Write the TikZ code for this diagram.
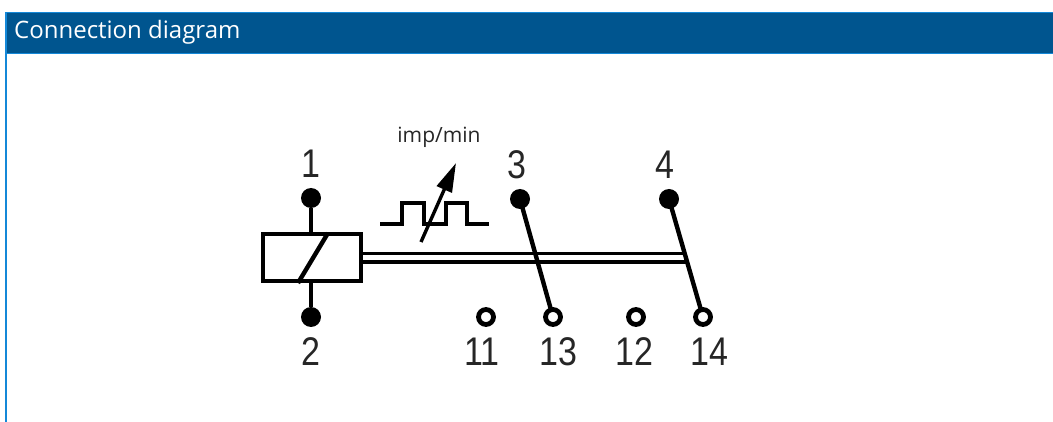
\documentclass[tikz,border=0pt]{standalone}
\usepackage{fontspec}
\setmainfont{Open Sans}
\newfontfamily\pinfont[FakeStretch=0.85]{Liberation Sans}
\usetikzlibrary{
	positioning
	, arrows.meta
	, calc
}
\definecolor{headblue}{HTML}{00558F}
\definecolor{edgeblue}{HTML}{1488D8}
\tikzset{
	heavy/.style={draw=black, line width=4.4pt},
	thinner/.style={draw=black, line width=3.4pt},
	filledterm/.style={circle, fill=black, inner sep=0, minimum size=20pt},
	openterm/.style={circle, draw=black, fill=white, line width=4.8pt, inner sep=0, minimum size=15pt},
	pinlabel/.style={font=\pinfont\fontsize{40}{40}\selectfont, text=black!85, inner sep=0}
}
\begin{document}
\begin{tikzpicture}[x=1pt, y=-1pt]
	\useasboundingbox (0, 0) rectangle (1053, 422);

	% Panel
	\node[fill=headblue, draw=none, minimum width=1047pt, minimum height=41pt, inner sep=0, anchor=north west] (head) at (6, 12.5) {};
	\node[anchor=west, text=white, inner sep=0, font=\fontsize{24}{26}\selectfont] (title) at (14, 32.5) {Connection diagram};
	\coordinate (panelbl) at (6, 422);
	\draw[edgeblue, line width=1.6pt] (panelbl) -- (head.north west) -- (head.north east);
	\draw[edgeblue, line width=1.2pt] (head.south west) -- (head.south east);

	% Coil
	\node[heavy, minimum width=98pt, minimum height=47pt, inner sep=0] (coil) at (312, 257.5) {};
	\coordinate (slashtop) at (328, 233);
	\coordinate (slashbot) at (298, 283);
	\draw[heavy] (slashtop) -- (slashbot);

	% Upper row
	\node[filledterm] (t1) at (311, 198) {};
	\node[filledterm] (t3) at (520, 199) {};
	\node[filledterm] (t4) at (669, 199) {};
	\node[filledterm] (t2) at (311, 317) {};

	% Lower row
	\node[openterm] (t11) at (486, 317) {};
	\node[openterm] (t13) at (553, 317) {};
	\node[openterm] (t12) at (636, 317) {};
	\node[openterm] (t14) at (703, 317) {};

	% Row labels
	\node[pinlabel] (l1) at (311, 164) {1};
	\node[pinlabel] (l3) at (517, 165) {3};
	\node[pinlabel] (l4) at (665, 165) {4};
	\node[pinlabel] (l2) at (311, 352) {2};
	\node[pinlabel] (l11) at (482, 352) {11};
	\node[pinlabel] (l13) at (558, 352) {13};
	\node[pinlabel] (l12) at (634, 352) {12};
	\node[pinlabel] (l14) at (709, 352) {14};

	% Wires
	\draw[heavy] (t1) -- (t1 |- coil.north);
	\draw[heavy] (t2) -- (t2 |- coil.south);

	% Linkage
	\coordinate (linka) at (684, 253.5);
	\coordinate (linkb) at (687, 262);
	\draw[thinner] (coil.east |- linka) -- (linka);
	\draw[thinner] (coil.east |- linkb) -- (linkb);

	% Contacts
	\draw[heavy, shorten >=8pt] (t3.center) -- (t13.center);
	\draw[heavy, shorten >=8pt] (t4.center) -- (t14.center);

	% Pulses
	\coordinate (pulsestart) at (380, 224);
	\coordinate (pulseend) at (489, 224);
	\draw[thinner] (pulsestart) -- (402, 224) -- (402, 203) -- (424, 203) -- (424, 224)
		-- (446, 224) -- (446, 203) -- (467, 203) -- (467, 224) -- (pulseend);
	\coordinate (ratefoot) at (421, 242);
	\coordinate (ratetip) at (456, 163);
	\draw[thinner, -{Triangle[length=29pt, width=16pt]}] (ratefoot) -- (ratetip);
	\node[inner sep=0, text=black!85, font=\fontsize{21}{23}\selectfont] (rate) at (439, 137) {imp/min};
\end{tikzpicture}
\end{document}
